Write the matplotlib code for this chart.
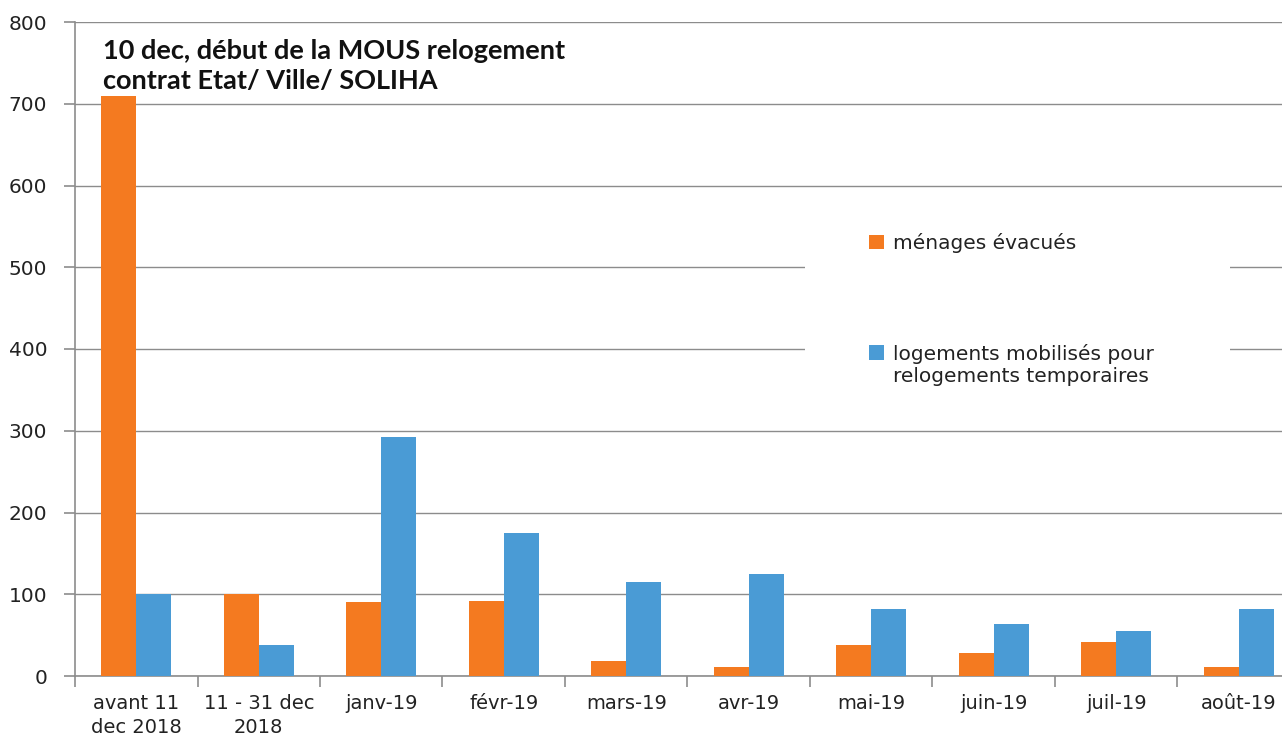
import numpy as np
import matplotlib.pyplot as plt
from matplotlib.patches import Rectangle
from matplotlib.legend_handler import HandlerPatch

# periodes et valeurs
periodes = ["avant 11\ndec 2018", "11 - 31 dec\n2018", "janv-19", "févr-19", "mars-19",
            "avr-19", "mai-19", "juin-19", "juil-19", "août-19"]
menages_evacues = [710, 100, 90, 92, 18, 11, 38, 28, 42, 11]
logements_mobilises = [100, 38, 292, 175, 115, 125, 82, 63, 55, 82]
yticks = [0, 100, 200, 300, 400, 500, 600, 700, 800]

orange = "#F47A20"
bleu = "#4A9BD5"
gris = "#8C8C8C"

fig = plt.figure(figsize=(12.82, 7.40), dpi=100)
ax = fig.add_axes([75 / 1282, 64 / 740, 1225 / 1282, 654 / 740])

x = np.arange(len(periodes))
w = 0.285
b1 = ax.bar(x - w / 2, menages_evacues, w, color=orange, label="ménages évacués", zorder=3)
b2 = ax.bar(x + w / 2, logements_mobilises, w, color=bleu,
            label="logements mobilisés pour\nrelogements temporaires", zorder=3)

ax.set_xlim(-0.5, len(periodes) - 0.5)
ax.set_ylim(0, 800)
ax.set_yticks(yticks)
ax.yaxis.grid(True, color=gris, lw=1.0, zorder=0)
ax.set_axisbelow(True)

# graduations entre les categories, libelles au centre
ax.set_xticks(np.arange(len(periodes) + 1) - 0.5)
ax.set_xticklabels([])
ax.set_xticks(x, minor=True)
ax.set_xticklabels(periodes, minor=True, fontsize=14, color="#222222", linespacing=1.3)
ax.tick_params(axis="x", which="major", length=8, width=1.2, color=gris)
ax.tick_params(axis="x", which="minor", length=0, pad=13)
ax.tick_params(axis="y", length=8, width=1.2, color=gris, labelsize=14.5,
               labelcolor="#222222", pad=12)

for s in ["top", "right"]:
    ax.spines[s].set_visible(False)
for s in ["left", "bottom"]:
    ax.spines[s].set_color(gris)
    ax.spines[s].set_linewidth(1.2)


# carre de legende aligne sur la premiere ligne du libelle
def carre_haut(legend, orig_handle, xdescent, ydescent, width, height, fontsize):
    return Rectangle((-xdescent, -ydescent + 0.62 * fontsize), width, height)


def style_barre(handle, orig):
    handle.update_from(orig.patches[0])


# fond blanc de la legende
ax.add_patch(Rectangle(((805 - 75) / 1225, (676 - 410) / 654), 425 / 1225, 205 / 654,
                       transform=ax.transAxes, facecolor="white", edgecolor="none", zorder=1))
fig.legend(loc="upper left", bbox_to_anchor=(859 / 1282, 1 - 223 / 740), frameon=False,
           fontsize=14.5, handlelength=0.75, handleheight=0.75, handletextpad=0.45,
           labelspacing=4.5, borderpad=0, labelcolor="#222222",
           handler_map={b2: HandlerPatch(patch_func=carre_haut, update_func=style_barre)})

fig.text(103 / 1282, 1 - 66 / 740, "10 dec, début de la MOUS relogement\ncontrat Etat/ Ville/ SOLIHA",
         fontsize=19.5, fontweight="bold", family="Lato", va="center", ha="left",
         linespacing=1.3, color="#111111")

fig.savefig("out.png", dpi=100)
